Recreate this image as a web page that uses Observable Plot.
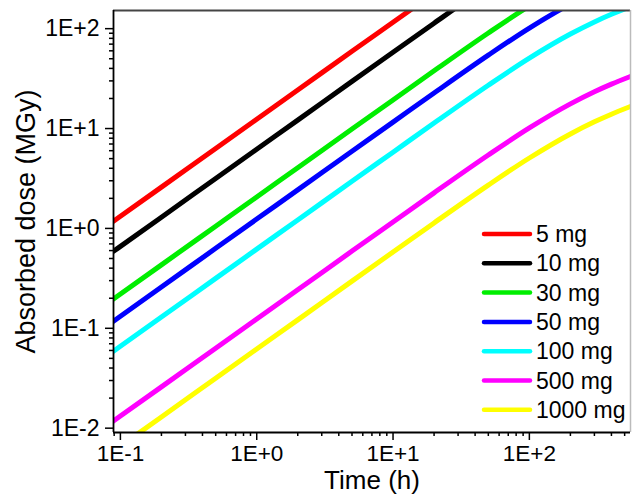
<!DOCTYPE html>
<html>
<head>
<meta charset="utf-8">
<script src="https://cdn.jsdelivr.net/npm/d3@7"></script>
<script src="https://cdn.jsdelivr.net/npm/@observablehq/plot@0.6"></script>
<style>
  html, body { margin: 0; padding: 0; background: #fff; }
  #chart { width: 632px; height: 494px; }
</style>
</head>
<body>
<div id="chart"></div>
<script>
// ---- data ----
const times = [0.089, 0.2, 0.5, 1, 2, 5, 10, 20, 50, 100, 200, 300, 400, 552];
const seriesNames = ["5 mg", "10 mg", "30 mg", "50 mg", "100 mg", "500 mg", "1000 mg"];
const seriesColors = ["#ff0000", "#000000", "#00ee00", "#0000ff", "#00ffff", "#ff00ff", "#ffff00"];
const dose5 = [1.18, 2.59, 6.32, 12.4, 24.3, 59.3, 116, 227, 543, 1014, 1766, 2336, 2784, 3325];
const dose10 = [0.59, 1.295, 3.16, 6.2, 12.15, 29.65, 58, 113.5, 271.5, 507, 883, 1168, 1392, 1662.5];
const dose30 = [0.1967, 0.4317, 1.053, 2.067, 4.05, 9.883, 19.33, 37.83, 90.5, 169, 294.3, 389.3, 464, 554.2];
const dose50 = [0.118, 0.259, 0.632, 1.24, 2.43, 5.93, 11.6, 22.7, 54.3, 101.4, 176.6, 233.6, 278.4, 332.5];
const dose100 = [0.059, 0.1295, 0.316, 0.62, 1.215, 2.965, 5.8, 11.35, 27.15, 50.7, 88.3, 116.8, 139.2, 166.25];
const dose500 = [0.0118, 0.0259, 0.0632, 0.124, 0.243, 0.593, 1.16, 2.27, 5.43, 10.14, 17.66, 23.36, 27.84, 33.25];
const dose1000 = [0.0059, 0.01295, 0.0316, 0.062, 0.1215, 0.2965, 0.58, 1.135, 2.715, 5.07, 8.83, 11.68, 13.92, 16.625];
const allDoses = [dose5, dose10, dose30, dose50, dose100, dose500, dose1000];

const xMajor = [0.1, 1, 10, 100];
const xMajorLabels = ["1E-1", "1E+0", "1E+1", "1E+2"];
const xMinor = [0.09, 0.2, 0.3, 0.4, 0.5, 0.6, 0.7, 0.8, 0.9, 2, 3, 4, 5, 6, 7, 8, 9, 20, 30, 40, 50, 60, 70, 80, 90, 200, 300, 400, 500];
const yMajor = [0.01, 0.1, 1, 10, 100];
const yMajorLabels = ["1E-2", "1E-1", "1E+0", "1E+1", "1E+2"];
const yMinor = [0.02, 0.03, 0.04, 0.05, 0.06, 0.07, 0.08, 0.09, 0.2, 0.3, 0.4, 0.5, 0.6, 0.7, 0.8, 0.9, 2, 3, 4, 5, 6, 7, 8, 9, 20, 30, 40, 50, 60, 70, 80, 90];
const xDomain = [0.089, 552];
const yDomain = [0.00905, 152];
const xTitle = "Time (h)";
const yTitle = "Absorbed dose (MGy)";

// ---- table ----
const rows = [];
seriesNames.forEach((name, s) => {
  times.forEach((t, i) => rows.push({series: name, t, dose: allDoses[s][i]}));
});

const font = "'Liberation Sans', Arial, sans-serif";
const xLab = new Map(xMajor.map((v, i) => [v, xMajorLabels[i]]));
const yLab = new Map(yMajor.map((v, i) => [v, yMajorLabels[i]]));

const chart = Plot.plot({
  width: 632,
  height: 494,
  marginLeft: 113,
  marginRight: 2,
  marginTop: 10,
  marginBottom: 62,
  style: {fontFamily: font, background: "#fff", color: "#000"},
  x: {type: "log", domain: xDomain, label: null},
  y: {type: "log", domain: yDomain, label: null},
  color: {domain: seriesNames, range: seriesColors},
  marks: [
    Plot.line(rows, {x: "t", y: "dose", z: "series", stroke: "series", strokeWidth: 5, curve: "monotone-x", clip: true}),
    Plot.ruleY([yDomain[1]], {stroke: "#444", strokeWidth: 2}),
    Plot.ruleX([xDomain[1]], {stroke: "#bbb", strokeWidth: 1.5}),
    Plot.ruleX([xDomain[0]], {stroke: "#000", strokeWidth: 1.8}),
    Plot.ruleY([yDomain[0]], {stroke: "#000", strokeWidth: 1.8}),
    Plot.axisX({ticks: xMajor, tickSize: 8, tickPadding: 5, tickFormat: d => xLab.get(d), fontSize: 22.5, strokeWidth: 1.5, label: null}),
    Plot.axisX({ticks: xMinor, tickSize: 4, tickFormat: () => "", strokeWidth: 1.5, label: null}),
    Plot.axisY({ticks: yMajor, tickSize: 8, tickPadding: 6, tickFormat: d => yLab.get(d), fontSize: 23, strokeWidth: 1.5, label: null}),
    Plot.axisY({ticks: yMinor, tickSize: 4, tickFormat: () => "", strokeWidth: 1.5, label: null}),
    Plot.text([xTitle], {frameAnchor: "bottom", textAnchor: "middle", lineAnchor: "middle", dy: 48, fontSize: 26, fill: "#000"}),
    Plot.text([yTitle], {frameAnchor: "left", textAnchor: "middle", lineAnchor: "middle", dx: -87, rotate: -90, fontSize: 27, fill: "#000"})
  ]
});

// ---- legend inside plot area ----
const svg = d3.select(chart);
const lg = svg.append("g").attr("font-family", font).attr("font-size", 23).attr("text-anchor", "start");
seriesNames.forEach((name, i) => {
  const y = 234 + i * 29.3;
  lg.append("line").attr("x1", 484).attr("x2", 530).attr("y1", y).attr("y2", y)
    .attr("stroke", seriesColors[i]).attr("stroke-width", 4.5).attr("stroke-linecap", "round");
  lg.append("text").attr("x", 536).attr("y", y).attr("dy", "0.35em").attr("fill", "#000").attr("text-anchor", "start").text(name);
});

document.getElementById("chart").appendChild(chart);
</script>
</body>
</html>
